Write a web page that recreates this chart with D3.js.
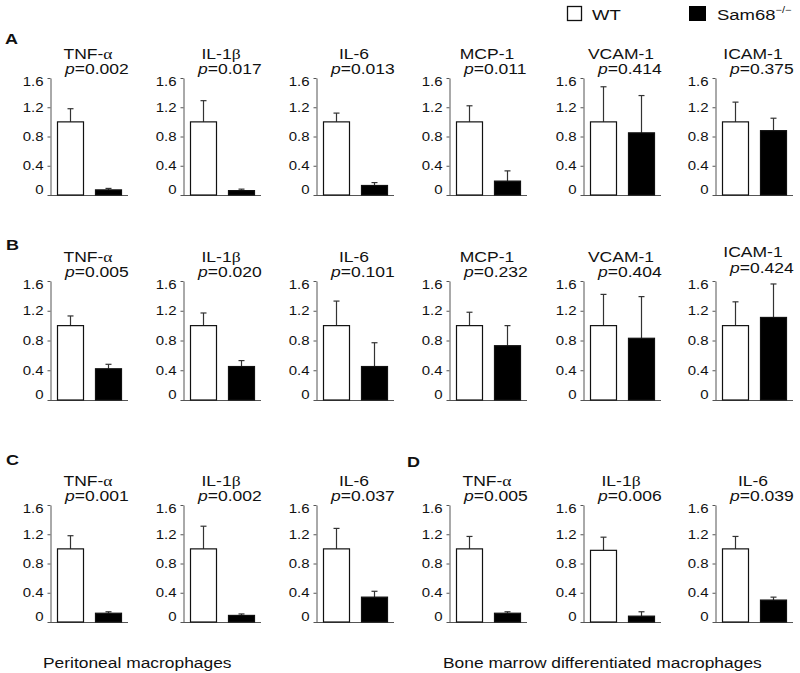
<!DOCTYPE html>
<html>
<head>
<meta charset="utf-8">
<script src="https://cdn.jsdelivr.net/npm/d3@7"></script>
<style>
  body { margin: 0; background: #fff; }
  text { font-family: "Liberation Sans", Arial, sans-serif; fill: #111; }
</style>
</head>
<body>
<svg id="chart"></svg>
<script>
// ---- data ----
let groups = ["WT", "Sam68-/-"];
let tickValues = [0, 0.4, 0.8, 1.2, 1.6];

let genesAB = ["TNF-α", "IL-1β", "IL-6", "MCP-1", "VCAM-1", "ICAM-1"];
let genesCD = ["TNF-α", "IL-1β", "IL-6"];

let pA = ["0.002", "0.017", "0.013", "0.011", "0.414", "0.375"];
let wtA = [1.0, 1.0, 1.0, 1.0, 1.0, 1.0];
let wtErrA = [0.18, 0.29, 0.12, 0.22, 0.48, 0.27];
let koA = [0.07, 0.06, 0.13, 0.19, 0.85, 0.88];
let koErrA = [0.02, 0.02, 0.04, 0.14, 0.51, 0.17];

let pB = ["0.005", "0.020", "0.101", "0.232", "0.404", "0.424"];
let wtB = [1.0, 1.0, 1.0, 1.0, 1.0, 1.0];
let wtErrB = [0.13, 0.17, 0.33, 0.18, 0.42, 0.32];
let koB = [0.42, 0.45, 0.45, 0.73, 0.83, 1.11];
let koErrB = [0.06, 0.08, 0.32, 0.27, 0.56, 0.45];

let pC = ["0.001", "0.002", "0.037"];
let wtC = [1.0, 1.0, 1.0];
let wtErrC = [0.18, 0.31, 0.28];
let koC = [0.12, 0.09, 0.34];
let koErrC = [0.02, 0.02, 0.08];

let pD = ["0.005", "0.006", "0.039"];
let wtD = [1.0, 0.98, 1.0];
let wtErrD = [0.17, 0.18, 0.17];
let koD = [0.12, 0.08, 0.30];
let koErrD = [0.02, 0.06, 0.04];

let cellLabels = ["Peritoneal macrophages", "Bone marrow differentiated macrophages"];

// ---- layout ----
let width = 800;
let height = 673;
let columnX = [50, 183, 316, 449, 583, 715];
let panelWidth = 78;
let squash = 0.82; // the original figure's lettering is flattened vertically

let svg = d3.select("#chart").attr("width", width).attr("height", height);
svg.append("rect").attr("width", width).attr("height", height).attr("fill", "#fff");

let rows = [
  { letter: "A", genes: genesAB, p: pA, wt: wtA, wtErr: wtErrA, ko: koA, koErr: koErrA, cols: [0, 1, 2, 3, 4, 5], top: 78, base: 195, lx: 5, ly: 44 },
  { letter: "B", genes: genesAB, p: pB, wt: wtB, wtErr: wtErrB, ko: koB, koErr: koErrB, cols: [0, 1, 2, 3, 4, 5], top: 281, base: 400, lx: 6, ly: 250 },
  { letter: "C", genes: genesCD, p: pC, wt: wtC, wtErr: wtErrC, ko: koC, koErr: koErrC, cols: [0, 1, 2], top: 505, base: 622, lx: 6, ly: 465 },
  { letter: "D", genes: genesCD, p: pD, wt: wtD, wtErr: wtErrD, ko: koD, koErr: koErrD, cols: [3, 4, 5], top: 505, base: 622, lx: 407, ly: 467 },
];

let addText = (parent, x, y, size) =>
  parent.append("text")
    .attr("transform", "translate(" + x + "," + y + ") scale(1," + squash + ")")
    .attr("font-size", size);

// gene names: greek letters in a serif face, like the Symbol font of the original
let writeGene = (sel, name) => {
  name.split(/([αβ])/).filter((s) => s).forEach((part) => {
    let t = sel.append("tspan").text(part);
    if (/[αβ]/.test(part)) t.style("font-family", "'Liberation Serif', 'DejaVu Serif', serif");
  });
};

let drawPanel = (row, i) => {
  let x0 = columnX[row.cols[i]];
  let g = svg.append("g");

  let yScale = d3.scaleLinear().domain([0, 1.6]).range([row.base, row.top]);
  let xScale = d3.scaleBand()
    .domain(groups)
    .range([x0, x0 + panelWidth])
    .paddingInner(0.316)
    .paddingOuter(0.184);

  let yAxis = d3.axisLeft(yScale)
    .tickValues(tickValues)
    .tickFormat((d) => (d === 0 ? "0" : d3.format(".1f")(d)))
    .tickSize(3)
    .tickSizeOuter(0)
    .tickPadding(4);

  let ax = g.append("g")
    .attr("transform", "translate(" + (x0 + 0.5) + ",0)")
    .call(yAxis);
  ax.select(".domain").attr("stroke", "#555");
  ax.selectAll(".tick line").attr("stroke", "#555");
  ax.selectAll(".tick text")
    .attr("font-size", 15)
    .attr("font-family", "'Liberation Sans', Arial, sans-serif")
    .attr("fill", "#111")
    // end labels sit inside the axis span, as in the original
    .attr("transform", (d) => "translate(0," + (d === 1.6 ? 4 : d === 0 ? -5 : 0) + ") scale(1," + squash + ")");

  // baseline
  g.append("line")
    .attr("x1", x0).attr("x2", x0 + panelWidth)
    .attr("y1", Math.round(yScale(0)) + 0.5).attr("y2", Math.round(yScale(0)) + 0.5)
    .attr("stroke", "#555");

  let bars = [
    { group: groups[0], value: row.wt[i], err: row.wtErr[i], fill: "#fff" },
    { group: groups[1], value: row.ko[i], err: row.koErr[i], fill: "#000" },
  ];

  // error bars (upper only)
  bars.forEach((d) => {
    let cx = Math.round(xScale(d.group) + xScale.bandwidth() / 2) + 0.5;
    g.append("line")
      .attr("x1", cx).attr("x2", cx)
      .attr("y1", yScale(d.value)).attr("y2", yScale(d.value + d.err))
      .attr("stroke", "#333").attr("stroke-width", 1.2);
    g.append("line")
      .attr("x1", cx - 3).attr("x2", cx + 3)
      .attr("y1", yScale(d.value + d.err)).attr("y2", yScale(d.value + d.err))
      .attr("stroke", "#333").attr("stroke-width", 1.2);
  });

  g.selectAll("rect.bar")
    .data(bars)
    .enter()
    .append("rect")
    .attr("class", "bar")
    .attr("x", (d) => Math.round(xScale(d.group)) + 0.5)
    .attr("width", Math.round(xScale.bandwidth()))
    .attr("y", (d) => yScale(d.value))
    .attr("height", (d) => yScale(0) - yScale(d.value))
    .attr("fill", (d) => d.fill)
    .attr("stroke", "#111")
    .attr("stroke-width", 1.2);

  // gene title and p value (ICAM-1 in row B sits a little higher)
  let highB = row.letter === "B" && i === 5;
  let titleY = highB ? row.top - 24 : row.top - 19;
  let pY = highB ? row.top - 8 : row.top - 4;
  let title = addText(g, x0 + 38, titleY, 17.5).attr("text-anchor", "middle");
  writeGene(title, row.genes[i]);

  let pt = addText(g, x0 + 15, pY, 17.5);
  pt.append("tspan").attr("font-style", "italic").text("p");
  pt.append("tspan").text("=" + row.p[i]);
};

rows.forEach((row) => {
  addText(svg, row.lx, row.ly, 18).attr("font-weight", "bold").text(row.letter);
  row.genes.forEach((gene, i) => drawPanel(row, i));
});

// legend
let legend = svg.append("g");
legend.append("rect").attr("x", 567.5).attr("y", 6.5).attr("width", 14).attr("height", 14)
  .attr("fill", "#fff").attr("stroke", "#111").attr("stroke-width", 1.3);
addText(legend, 592, 20, 18.5).text(groups[0]);
legend.append("rect").attr("x", 689).attr("y", 6).attr("width", 17).attr("height", 15).attr("fill", "#000");
let koText = addText(legend, 717, 20, 18.5);
koText.append("tspan").text("Sam68");
koText.append("tspan").attr("font-size", 11).attr("dy", -8).text("−/−");

// cell type captions
addText(svg, 43, 668, 17.4).text(cellLabels[0]);
addText(svg, 443, 668, 17.4).text(cellLabels[1]);
</script>
</body>
</html>
